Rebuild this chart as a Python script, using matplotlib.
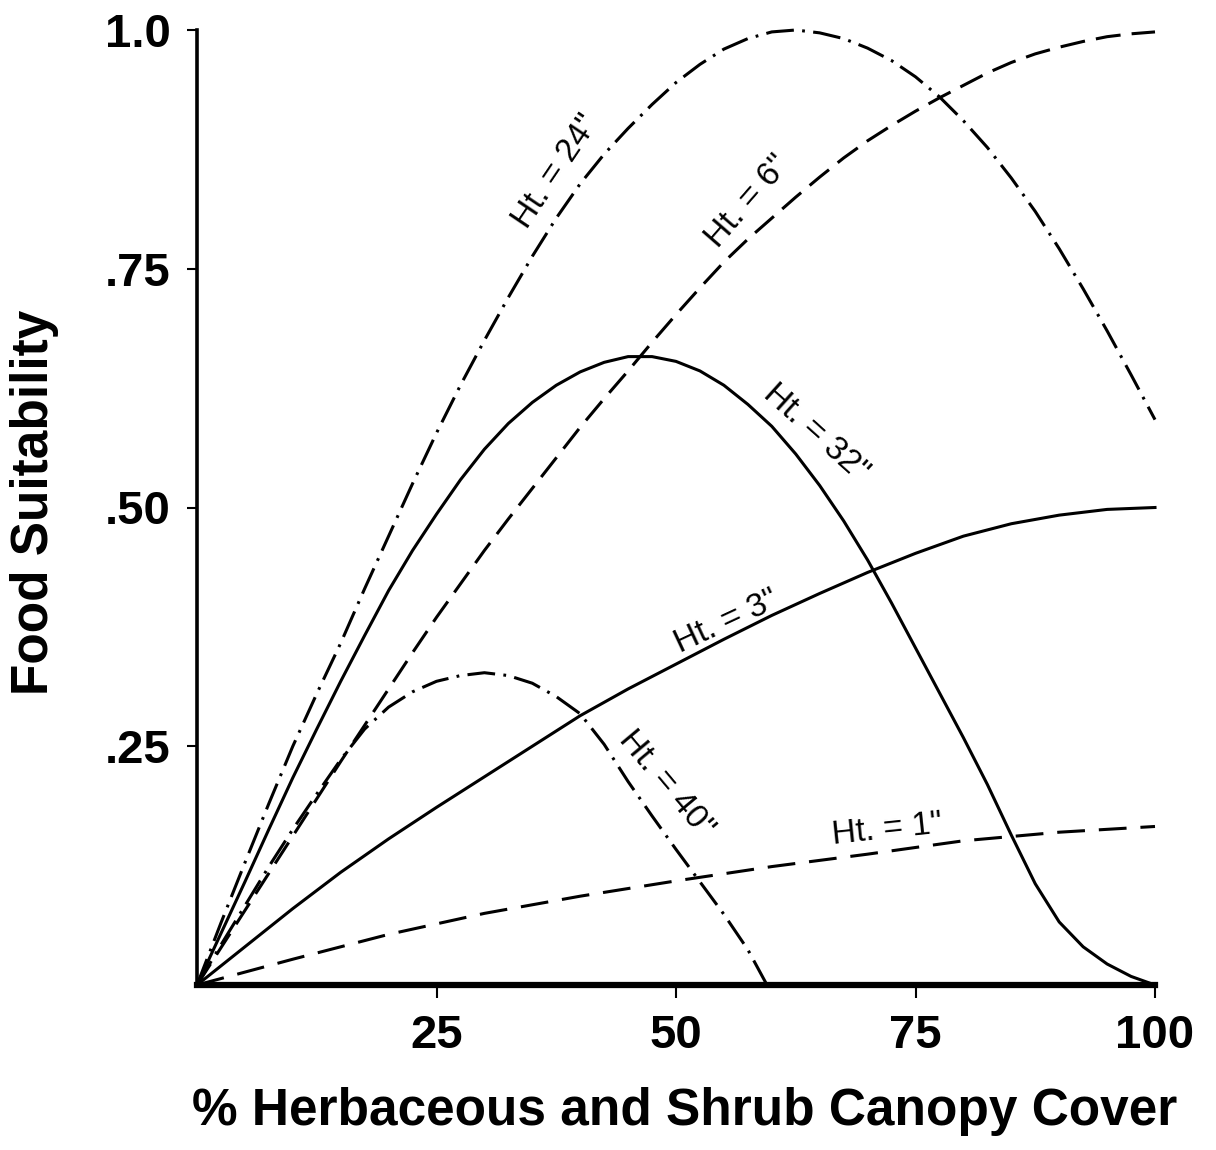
import matplotlib
matplotlib.use("Agg")
import matplotlib.pyplot as plt

plt.rcParams["font.family"] = ["Liberation Sans", "DejaVu Sans"]
plt.rcParams["lines.scale_dashes"] = False

# curves: % cover vs food suitability
x_24 = [0, 2.5, 5, 7.5, 10, 12.5, 15, 17.5, 20, 22.5, 25, 27.5, 30, 32.5, 35, 37.5, 40, 42.5, 45,
        47.5, 50, 52.5, 55, 57.5, 60, 62.5, 65, 67.5, 70, 72.5, 75, 77.5, 80, 82.5, 85, 87.5, 90,
        92.5, 95, 97.5, 100]
y_24 = [0, 0.065, 0.128, 0.19, 0.25, 0.305, 0.358, 0.415, 0.47, 0.525, 0.578, 0.628, 0.675, 0.72,
        0.763, 0.803, 0.839, 0.87, 0.897, 0.922, 0.945, 0.964, 0.98, 0.991, 0.998, 1.0, 0.997, 0.991,
        0.981, 0.968, 0.951, 0.93, 0.905, 0.877, 0.845, 0.81, 0.771, 0.729, 0.685, 0.639, 0.592]

x_32 = [0, 2.5, 5, 7.5, 10, 12.5, 15, 17.5, 20, 22.5, 25, 27.5, 30, 32.5, 35, 37.5, 40, 42.5, 45,
        47.5, 50, 52.5, 55, 57.5, 60, 62.5, 65, 67.5, 70, 72.5, 75, 77.5, 80, 82.5, 85, 87.5, 90,
        92.5, 95, 97.5, 100]
y_32 = [0, 0.054, 0.108, 0.163, 0.217, 0.268, 0.318, 0.366, 0.413, 0.455, 0.493, 0.529, 0.561, 0.588,
        0.61, 0.628, 0.642, 0.652, 0.658, 0.658, 0.653, 0.643, 0.628, 0.608, 0.585, 0.556, 0.523,
        0.486, 0.445, 0.4, 0.353, 0.306, 0.259, 0.21, 0.157, 0.106, 0.066, 0.04, 0.022, 0.009, 0.0]

x_6 = [0, 2.5, 5, 7.5, 10, 12.5, 15, 17.5, 20, 22.5, 25, 27.5, 30, 32.5, 35, 37.5, 40, 42.5, 45,
       47.5, 50, 52.5, 55, 57.5, 60, 62.5, 65, 67.5, 70, 72.5, 75, 77.5, 80, 82.5, 85, 87.5, 90,
       92.5, 95, 97.5, 100]
y_6 = [0, 0.039, 0.078, 0.117, 0.156, 0.195, 0.234, 0.272, 0.31, 0.348, 0.385, 0.42, 0.455, 0.488,
       0.52, 0.552, 0.584, 0.614, 0.643, 0.673, 0.702, 0.73, 0.757, 0.781, 0.803, 0.825, 0.846,
       0.866, 0.884, 0.9, 0.915, 0.929, 0.942, 0.955, 0.966, 0.975, 0.982, 0.988, 0.993, 0.996, 0.998]

x_40 = [0, 2.5, 5, 7.5, 10, 12.5, 15, 17.5, 20, 22.5, 25, 27.5, 30, 32.5, 35, 37.5, 40, 42.5, 45,
        47.5, 50, 52.5, 55, 57.5, 59.5]
y_40 = [0, 0.042, 0.083, 0.124, 0.163, 0.2, 0.236, 0.268, 0.291, 0.307, 0.318, 0.324, 0.327,
        0.324, 0.316, 0.302, 0.284, 0.252, 0.213, 0.177, 0.142, 0.108, 0.074, 0.037, 0.0]

x_3 = [0, 5, 10, 15, 20, 25, 30, 35, 40, 45, 50, 55, 60, 65, 70, 75, 80, 85, 90, 95, 100]
y_3 = [0, 0.04, 0.08, 0.118, 0.153, 0.186, 0.218, 0.25, 0.282, 0.31, 0.336, 0.362, 0.387, 0.41,
       0.432, 0.452, 0.47, 0.483, 0.492, 0.498, 0.50]

x_1 = [0, 10, 20, 30, 40, 50, 60, 70, 80, 90, 100]
y_1 = [0, 0.027, 0.053, 0.075, 0.093, 0.109, 0.124, 0.137, 0.151, 0.16, 0.166]

x_ticks = [25, 50, 75, 100]
x_tick_labels = ["25", "50", "75", "100"]
y_ticks = [0.25, 0.5, 0.75, 1.0]
y_tick_labels = [".25", ".50", ".75", "1.0"]

# label text, anchor (data coords), screen rotation
labels = [
    ('Ht. = 24"', 37.5, 0.852, 56),
    ('Ht. = 6"', 57.5, 0.82, 49),
    ('Ht. = 32"', 64.6, 0.578, -42),
    ('Ht. = 3"', 55.3, 0.38, 25),
    ('Ht. = 40"', 49.0, 0.21, -50),
    ('Ht. = 1"', 72.0, 0.163, 6),
]

dash = (0, (18, 8))
dashdot = (0, (20, 6, 2, 6))
lw = 2.2

fig = plt.figure(figsize=(12.16, 11.5), dpi=100)
ax = fig.add_axes([197 / 1216, 165 / 1150, 958 / 1216, 955 / 1150])

style = dict(color="black", lw=lw, clip_on=False, solid_joinstyle="round", dash_joinstyle="round")
ax.plot(x_24, y_24, linestyle=dashdot, **style)
ax.plot(x_32, y_32, linestyle="-", **style)
ax.plot(x_6, y_6, linestyle=dash, **style)
ax.plot(x_40, y_40, linestyle=dashdot, **style)
ax.plot(x_3, y_3, linestyle="-", **style)
ax.plot(x_1, y_1, linestyle=(0, (20, 10)), **style)

for text, lx, ly, rot in labels:
    ax.text(lx, ly, text, rotation=rot, fontsize=24, ha="center", va="center",
            rotation_mode="anchor")

ax.set_xlim(0, 100)
ax.set_ylim(0, 1.0)
ax.spines["top"].set_visible(False)
ax.spines["right"].set_visible(False)
ax.spines["left"].set_linewidth(2.6)
ax.spines["bottom"].set_linewidth(4.5)

ax.set_xticks(x_ticks)
ax.set_xticklabels(x_tick_labels, fontsize=34, fontweight="bold")
ax.set_yticks(y_ticks)
ax.set_yticklabels(y_tick_labels, fontsize=34, fontweight="bold")
ax.tick_params(axis="x", direction="out", length=9, width=1.5, pad=12)
ax.tick_params(axis="y", direction="out", length=7, width=1.5, pad=12)

fig.text(685 / 1216, 1 - 1112 / 1150, "% Herbaceous and Shrub Canopy Cover",
         fontsize=37, fontweight="bold", ha="center", va="center")
fig.text(35 / 1216, 1 - 502 / 1150, "Food Suitability", rotation=90,
         fontsize=37, fontweight="bold", ha="center", va="center")

fig.savefig("out.png", dpi=100)
